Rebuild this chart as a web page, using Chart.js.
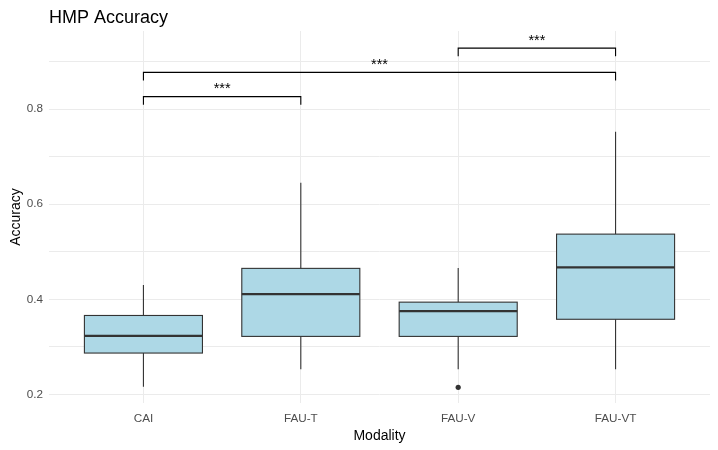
<!DOCTYPE html>
<html>
<head>
<meta charset="utf-8">
<script src="https://cdn.jsdelivr.net/npm/chart.js@4"></script>
<style>
  html, body { margin: 0; padding: 0; background: #ffffff; }
  #wrap { width: 718px; height: 450px; position: relative; }
</style>
</head>
<body>
<div id="wrap"><canvas id="c"></canvas></div>
<script>
// ---- data ----
const categories   = ['CAI', 'FAU-T', 'FAU-V', 'FAU-VT'];
const whiskerLow   = [0.216, 0.253, 0.253, 0.253];
const quartile1    = [0.287, 0.322, 0.322, 0.358];
const medians      = [0.323, 0.411, 0.375, 0.467];
const quartile3    = [0.366, 0.465, 0.394, 0.537];
const whiskerHigh  = [0.430, 0.645, 0.466, 0.752];
const outlierCat   = [3];
const outlierValue = [0.215];

// significance brackets (category numbers 1..4)
const bracketFrom  = [1, 1, 3];
const bracketTo    = [2, 4, 4];
const bracketY     = [0.826, 0.877, 0.928];
const bracketLabel = ['***', '***', '***'];

const yTicks       = [0.2, 0.3, 0.4, 0.5, 0.6, 0.7, 0.8, 0.9];
const yLabelled    = [0.2, 0.4, 0.6, 0.8];

const FONT = "'Liberation Sans', Arial, sans-serif";

const boxPlugin = {
  id: 'boxes',
  beforeDatasetsDraw(chart) {
    const {ctx, scales: {x, y}} = chart;
    ctx.save();
    const half = 0.375;
    for (let i = 0; i < categories.length; i++) {
      const c = i + 1;
      const xl = x.getPixelForValue(c - half);
      const xr = x.getPixelForValue(c + half);
      const xc = x.getPixelForValue(c);
      const yLo = y.getPixelForValue(whiskerLow[i]);
      const yQ1 = y.getPixelForValue(quartile1[i]);
      const yMd = y.getPixelForValue(medians[i]);
      const yQ3 = y.getPixelForValue(quartile3[i]);
      const yHi = y.getPixelForValue(whiskerHigh[i]);
      ctx.strokeStyle = '#333333';
      ctx.lineWidth = 1.1;
      // whiskers
      ctx.beginPath();
      ctx.moveTo(xc, yHi); ctx.lineTo(xc, yQ3);
      ctx.moveTo(xc, yQ1); ctx.lineTo(xc, yLo);
      ctx.stroke();
      // box
      ctx.fillStyle = '#add8e6';
      ctx.fillRect(xl, yQ3, xr - xl, yQ1 - yQ3);
      ctx.strokeRect(xl, yQ3, xr - xl, yQ1 - yQ3);
      // median
      ctx.lineWidth = 2.2;
      ctx.beginPath();
      ctx.moveTo(xl, yMd); ctx.lineTo(xr, yMd);
      ctx.stroke();
    }
    ctx.restore();
  },
  afterDatasetsDraw(chart) {
    const {ctx, scales: {x, y}} = chart;
    ctx.save();
    ctx.strokeStyle = '#000000';
    ctx.lineWidth = 1.1;
    ctx.fillStyle = '#000000';
    ctx.font = '14.5px ' + FONT;
    ctx.textAlign = 'center';
    ctx.textBaseline = 'alphabetic';
    const tip = 0.017;
    for (let i = 0; i < bracketFrom.length; i++) {
      const x1 = x.getPixelForValue(bracketFrom[i]);
      const x2 = x.getPixelForValue(bracketTo[i]);
      const yt = y.getPixelForValue(bracketY[i]);
      const yb = y.getPixelForValue(bracketY[i] - tip);
      ctx.beginPath();
      ctx.moveTo(x1, yb); ctx.lineTo(x1, yt); ctx.lineTo(x2, yt); ctx.lineTo(x2, yb);
      ctx.stroke();
      ctx.fillText(bracketLabel[i], (x1 + x2) / 2, yt - 3.5);
    }
    // title
    ctx.textAlign = 'left';
    ctx.font = '18px ' + FONT;
    ctx.fillText('HMP Accuracy', chart.chartArea.left, 22.5);
    ctx.restore();
  }
};

new Chart(document.getElementById('c'), {
  type: 'scatter',
  data: {
    datasets: [{
      data: outlierCat.map((c, i) => ({x: c, y: outlierValue[i]})),
      pointRadius: 2.6,
      pointHoverRadius: 2.6,
      pointBackgroundColor: '#333333',
      pointBorderColor: '#333333',
      pointBorderWidth: 0
    }]
  },
  options: {
    responsive: true,
    maintainAspectRatio: false,
    animation: false,
    devicePixelRatio: 1,
    layout: { padding: { top: 31, right: 8, left: 0, bottom: 0 } },
    plugins: {
      legend: { display: false },
      tooltip: { enabled: false },
      title: { display: false }
    },
    scales: {
      x: {
        type: 'linear',
        min: 0.4,
        max: 4.6,
        afterBuildTicks(scale) { scale.ticks = categories.map((c, i) => ({value: i + 1})); },
        afterFit(scale) { scale.height = 47; },
        ticks: {
          autoSkip: false,
          maxRotation: 0,
          padding: 9,
          color: '#4d4d4d',
          font: { family: FONT, size: 11.7 },
          callback: (v, i) => categories[i]
        },
        grid: { color: '#ebebeb', lineWidth: 1, drawTicks: false },
        border: { display: false },
        title: {
          display: true,
          text: 'Modality',
          color: '#000000',
          font: { family: FONT, size: 14 },
          padding: { top: 2, bottom: 5 }
        }
      },
      y: {
        type: 'linear',
        min: 0.182,
        max: 0.964,
        afterBuildTicks(scale) { scale.ticks = yTicks.map(v => ({value: v})); },
        afterFit(scale) { scale.width = 49; },
        ticks: {
          padding: 6,
          color: '#4d4d4d',
          font: { family: FONT, size: 11.7 },
          callback: (v) => yLabelled.some(t => Math.abs(t - v) < 1e-9) ? v.toFixed(1) : ''
        },
        grid: { color: '#ebebeb', lineWidth: 1, drawTicks: false },
        border: { display: false },
        title: {
          display: true,
          text: 'Accuracy',
          color: '#000000',
          font: { family: FONT, size: 14 },
          padding: { top: 8, bottom: 0 }
        }
      }
    }
  },
  plugins: [boxPlugin]
});
</script>
</body>
</html>
